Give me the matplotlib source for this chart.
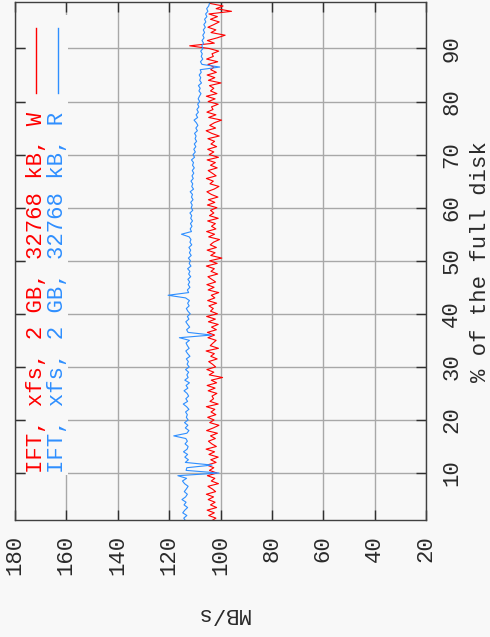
import numpy as np
import matplotlib
matplotlib.use("Agg")
import matplotlib.pyplot as plt
from matplotlib.patches import Rectangle
from matplotlib.lines import Line2D

# % of the full disk (sample positions)
pct = np.arange(1.0, 98.75, 0.5)

# Read throughput (blue), MB/s
read_mbps = [
    113.6, 114.3, 113.1, 114.7, 113.9, 112.8, 114.2, 113.4, 115.0, 113.6,
    112.9, 114.1, 113.3, 112.6, 114.0, 114.8, 113.2, 116.6, 100.6, 113.4,
    113.1, 103.3, 113.7, 112.5, 113.9, 112.8, 114.4, 113.0, 112.6, 113.8,
    112.9, 113.5, 118.2, 113.1, 112.3, 113.7, 112.7, 114.0, 112.6, 113.3,
    112.9, 113.6, 112.3, 113.2, 114.5, 112.8, 113.5, 112.4, 113.0, 114.2,
    112.7, 113.4, 112.1, 113.9, 112.6, 113.1, 112.4, 113.6, 112.2, 113.0,
    112.5, 113.3, 111.9, 112.8, 113.5, 112.2, 112.9, 113.4, 112.1, 116.0,
    103.5, 112.6, 113.2, 112.0, 112.8, 113.5, 112.3, 112.9, 111.8, 112.7,
    113.3, 112.2, 112.8, 112.1, 113.6, 120.4, 112.4, 112.9, 111.9, 112.6,
    112.0, 112.7, 111.6, 112.4, 111.9, 112.8, 111.5, 112.2, 111.7, 112.5,
    111.4, 112.1, 111.6, 112.3, 111.2, 111.9, 111.5, 112.2, 115.2, 111.3,
    111.8, 111.1, 111.7, 110.9, 111.6, 111.2, 111.9, 110.8, 111.4, 111.0,
    111.6, 110.7, 111.3, 110.9, 111.8, 110.5, 111.2, 110.8, 111.5, 110.6,
    111.1, 110.4, 111.0, 110.2, 110.9, 110.5, 111.3, 110.1, 110.7, 109.8,
    110.4, 109.6, 110.2, 109.3, 109.9, 109.5, 110.1, 109.0, 109.6, 108.8,
    109.4, 110.3, 108.9, 109.5, 108.6, 109.2, 108.4, 108.9, 108.1, 108.7,
    108.2, 107.6, 108.4, 107.9, 108.6, 107.4, 108.1, 107.7, 108.3, 107.5,
    107.9, 100.3, 107.2, 107.8, 106.9, 107.5, 107.1, 107.7, 106.8, 107.3,
    106.6, 107.2, 106.4, 106.9, 106.2, 106.7, 105.9, 106.5, 105.7, 106.2,
    105.3, 105.8, 104.9, 105.4, 104.6, 104.3,
]

# Write throughput (red), MB/s
write_mbps = [
    103.5, 101.8, 104.6, 102.4, 105.2, 101.5, 103.9, 102.1, 104.8, 102.7,
    105.5, 101.9, 103.2, 104.9, 100.8, 103.6, 102.2, 105.1, 101.4, 104.3,
    102.6, 105.3, 101.7, 103.8, 100.9, 104.5, 102.3, 105.6, 101.6, 103.4,
    104.7, 102.0, 103.9, 101.2, 105.4, 102.8, 100.6, 104.2, 102.5, 105.0,
    101.8, 103.7, 102.2, 105.5, 100.9, 104.1, 102.7, 103.3, 101.4, 104.8,
    102.1, 105.2, 101.5, 103.6, 99.2, 104.4, 102.6, 105.3, 101.9, 103.1,
    104.6, 101.3, 103.8, 102.4, 105.6, 100.8, 104.0, 102.9, 101.7, 104.9,
    102.3, 105.1, 101.6, 103.5, 100.9, 104.7, 102.0, 105.4, 101.2, 103.9,
    102.8, 104.5, 101.5, 105.0, 102.2, 103.6, 100.7, 104.8, 102.5, 105.3,
    101.9, 103.4, 104.9, 101.1, 103.7, 102.4, 105.5, 101.3, 104.2, 99.5,
    103.8, 102.1, 105.2, 101.6, 104.0, 102.7, 100.4, 104.6, 102.3, 105.4,
    101.8, 103.5, 102.0, 105.0, 100.9, 104.3, 102.6, 103.9, 101.4, 105.1,
    102.2, 104.7, 101.0, 103.6, 105.3, 102.5, 100.6, 104.1, 102.8, 105.5,
    101.7, 103.2, 104.8, 101.3, 103.9, 102.0, 105.2, 100.8, 104.4, 102.6,
    105.0, 101.5, 103.7, 102.3, 104.9, 100.5, 103.4, 105.6, 101.9, 104.2,
    102.4, 99.6, 104.6, 101.8, 105.3, 102.9, 103.5, 100.9, 104.8, 102.1,
    105.5, 101.4, 103.9, 102.6, 104.3, 99.8, 104.7, 102.2, 105.2, 101.6,
    103.8, 102.5, 104.9, 101.1, 105.4, 102.8, 103.3, 100.7, 104.5, 112.0,
    102.4, 105.1, 101.3, 98.2, 103.7, 101.8, 104.9, 102.6, 100.5, 103.9,
    101.2, 104.5, 95.7, 101.7, 99.0, 104.2,
]

labels = ["IFT, xfs, 2 GB, 32768 kB, W", "IFT, xfs, 2 GB, 32768 kB, R"]
mbps_ticks = [180, 160, 140, 120, 100, 80, 60, 40, 20]
pct_ticks = [10, 20, 30, 40, 50, 60, 70, 80, 90]

RED = "#ff0000"
BLUE = "#2f8fff"
BG = "#f8f8f8"
FONT = "Liberation Mono"
FS = 16
TXT = "#2a2a2a"

W, H = 490, 637
fig = plt.figure(figsize=(W / 100, H / 100), dpi=100, facecolor=BG)
L, R_, T, B = 15, 426, 1.5, 520
ax = fig.add_axes([L / W, 1 - B / H, (R_ - L) / W, (B - T) / H], facecolor=BG)

ax.set_axisbelow(True)
ax.plot(write_mbps, pct, color=RED, lw=0.8, zorder=2)
ax.plot(read_mbps, pct, color=BLUE, lw=0.8, zorder=2)

ax.set_xlim(180, 20)
ax.set_ylim(1.15, 98.85)
ax.set_xticks(mbps_ticks)
ax.set_xticklabels([str(v) for v in mbps_ticks], rotation=90,
                   fontsize=FS, family=FONT, color=TXT)
ax.set_yticks(pct_ticks)
ax.set_yticklabels([str(v) for v in pct_ticks], rotation=90,
                   fontsize=FS, family=FONT, color=TXT, va="center")
ax.tick_params(direction="in", length=7.2, width=1, color="#303030",
               top=True, right=True, left=True, bottom=True,
               labelleft=False, labelright=True)
ax.tick_params(axis="x", pad=11)
ax.tick_params(axis="y", pad=11)
ax.grid(True, color="#a8a8a8", lw=1)
for s in ax.spines.values():
    s.set_color("#404040")
    s.set_linewidth(1)

# key background (hides grid behind the key)
ax.add_patch(Rectangle(((26 - L) / (R_ - L), (B - 475) / (B - T)),
                       (68 - 26) / (R_ - L), (475 - 15) / (B - T),
                       transform=ax.transAxes, facecolor=BG, edgecolor="none",
                       zorder=1))

# key
for xpix, lab, col in [(36, labels[0], RED), (57.5, labels[1], BLUE)]:
    fig.text(xpix / W, 1 - 473 / H, lab, rotation=90, ha="center", va="bottom",
             fontsize=FS, family=FONT, color=col)
    fig.add_artist(Line2D([xpix / W, xpix / W], [1 - 93 / H, 1 - 28 / H],
                          color=col, lw=1))

fig.text(480.5 / W, 1 - 262 / H, "% of the full disk", rotation=90,
         ha="center", va="center", fontsize=FS, family=FONT, color=TXT)
fig.text(223 / W, 1 - 613 / H, "MB/s", rotation=180,
         ha="center", va="center", fontsize=FS, family=FONT, color=TXT)

fig.savefig("out.png", dpi=100, facecolor=BG)
